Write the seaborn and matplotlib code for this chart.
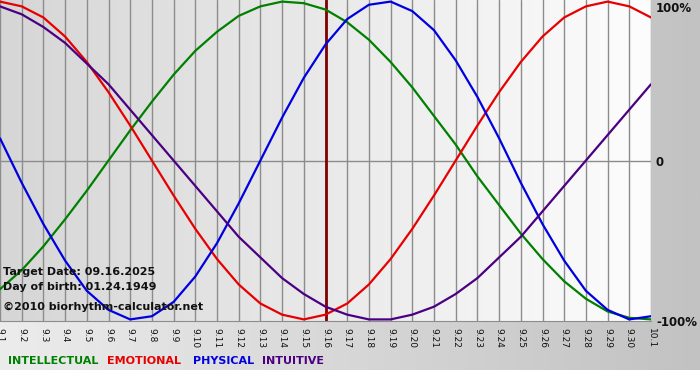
import numpy as np
import pandas as pd
import matplotlib.pyplot as plt
import seaborn as sns
from matplotlib.colors import LinearSegmentedColormap

# Day labels for the month shown (9.1 .. 10.1)
days = ['9.' + str(d) for d in range(1, 31)] + ['10.1']

# Cycle values, one per day (-1 = -100%, 1 = 100%)
intellectual = [-0.81, -0.69, -0.54, -0.37, -0.19, 0.00, 0.19, 0.37, 0.54, 0.69,
                0.81, 0.91, 0.97, 1.00, 0.99, 0.95, 0.87, 0.76, 0.62, 0.46,
                0.28, 0.10, -0.10, -0.28, -0.46, -0.62, -0.76, -0.87, -0.95, -0.99,
                -1.00]
emotional = [1.00, 0.97, 0.90, 0.78, 0.62, 0.43, 0.22, 0.00, -0.22, -0.43,
             -0.62, -0.78, -0.90, -0.97, -1.00, -0.97, -0.90, -0.78, -0.62, -0.43,
             -0.22, 0.00, 0.22, 0.43, 0.62, 0.78, 0.90, 0.97, 1.00, 0.97,
             0.90]
physical = [0.14, -0.14, -0.40, -0.63, -0.82, -0.94, -1.00, -0.98, -0.89, -0.73,
            -0.52, -0.27, 0.00, 0.27, 0.52, 0.73, 0.89, 0.98, 1.00, 0.94,
            0.82, 0.63, 0.40, 0.14, -0.14, -0.40, -0.63, -0.82, -0.94, -1.00,
            -0.98]
intuitive = [0.97, 0.92, 0.84, 0.74, 0.61, 0.48, 0.32, 0.16, 0.00, -0.16,
             -0.32, -0.48, -0.61, -0.74, -0.84, -0.92, -0.97, -1.00, -1.00, -0.97,
             -0.92, -0.84, -0.74, -0.61, -0.48, -0.32, -0.16, 0.00, 0.16, 0.32,
             0.48]

series = {'INTELLECTUAL': intellectual, 'EMOTIONAL': emotional,
          'PHYSICAL': physical, 'INTUITIVE': intuitive}
colors = {'INTELLECTUAL': '#008000', 'EMOTIONAL': '#e80000',
          'PHYSICAL': '#0000e0', 'INTUITIVE': '#4b0082'}
target_day = '9.16'

df = pd.concat([pd.DataFrame({'day': range(len(days)), 'value': v, 'cycle': k})
                for k, v in series.items()])

sns.set_style('white')
plt.rcParams['font.family'] = ['DejaVu Sans']

W, H = 700, 380
fig = plt.figure(figsize=(7, 3.8), dpi=100)
fig.patch.set_facecolor('white')

# grey gradient behind everything
bg = fig.add_axes([0, 10 / H, 1, 370 / H])
outer = LinearSegmentedColormap.from_list('outer', ['#ececec', '#c2c2c2'])
bg.imshow(np.linspace(0, 1, 256).reshape(1, -1), cmap=outer, aspect='auto',
          extent=[0, 1, 0, 1])
bg.axis('off')

ax = fig.add_axes([0, 59 / H, 651 / W, 321 / H])
inner = LinearSegmentedColormap.from_list('inner', ['#d6d6d6', '#fdfdfd'])
ymin, ymax = -1.01, 1.01
ax.imshow(np.linspace(0, 1, 256).reshape(1, -1), cmap=inner, aspect='auto',
          extent=[0, len(days) - 1, ymin, ymax], zorder=0)

# day grid and zero line
for i in range(len(days)):
    ax.axvline(i, color='#8c8c8c', lw=1, zorder=1)
ax.axhline(0, color='#8c8c8c', lw=1, zorder=1)
ax.axvline(days.index(target_day), color='#800000', lw=2, zorder=2)

sns.lineplot(data=df, x='day', y='value', hue='cycle', palette=colors,
             linewidth=1.6, legend=False, ax=ax, zorder=3)

ax.set_xlim(0, len(days) - 1)
ax.set_ylim(ymin, ymax)
ax.set_xticks(range(len(days)))
ax.set_xticklabels(days, rotation=270, fontsize=6.5)
ax.tick_params(axis='x', length=4, color='#8c8c8c', pad=1, labelcolor='#111111')
ax.set_yticks([])
ax.set_xlabel('')
ax.set_ylabel('')
for s in ['top', 'left', 'right']:
    ax.spines[s].set_visible(False)
ax.spines['bottom'].set_color('#8c8c8c')

# percent labels on the right
for label, ypx in [('100%', 8), ('0', 162), ('-100%', 322)]:
    fig.text(656 / W, 1 - ypx / H, label, fontsize=8.5, fontweight='bold',
             va='center', ha='left', color='#111111')

# info texts
info = [('Target Date: 09.16.2025', 272), ('Day of birth: 01.24.1949', 287),
        ('\u00a92010 biorhythm-calculator.net', 307)]
for txt, ypx in info:
    fig.text(3 / W, 1 - ypx / H, txt, fontsize=8, fontweight='bold',
             va='center', color='#111111')

# legend row
for name, xpx in [('INTELLECTUAL', 8), ('EMOTIONAL', 107), ('PHYSICAL', 193),
                  ('INTUITIVE', 262)]:
    fig.text(xpx / W, 1 - 361 / H, name, fontsize=8, fontweight='bold',
             va='center', color=colors[name])

fig.savefig('out.png', dpi=100)
